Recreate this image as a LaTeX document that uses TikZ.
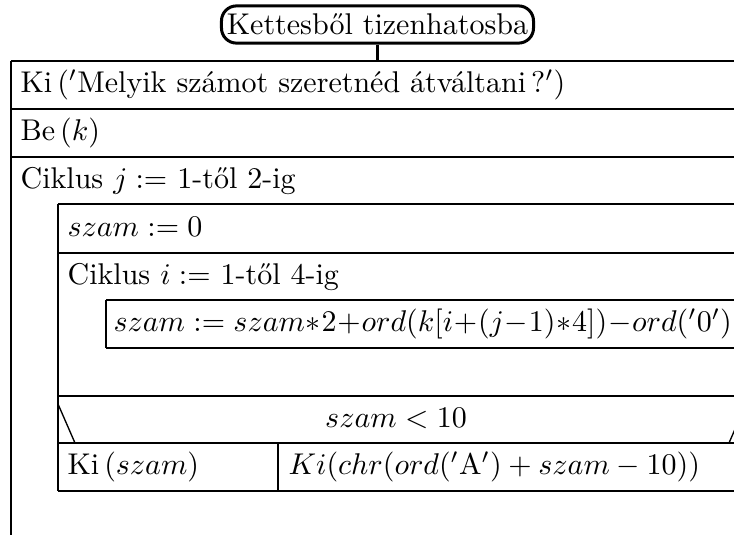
\documentclass[tikz,border=0pt]{standalone}
\begin{document}
\begin{tikzpicture}[x=0.3333pt,y=-0.3333pt,
  frame/.style={line width=0.9pt},
  diag/.style={line width=0.45pt},
  txt/.style={anchor=west,inner sep=0pt,text height=7.5pt,text depth=2.5pt},
  ctxt/.style={anchor=center,inner sep=0pt,text height=7.5pt,text depth=2.5pt}]
\useasboundingbox (0,0) rectangle (734,535);
\clip (0,0) rectangle (734,535);

% title
\node[draw, line width=1pt, rounded corners=5pt, minimum width=104pt,
      minimum height=12.4pt, inner sep=0pt] (title) at (377.5,24.5) {Kettesből tizenhatosba};
\coordinate (top) at (377.5,61);
\draw[frame] (title.south) -- (top);

% outer frame
\draw[frame] (11,61) -- (760,61);
\draw[frame] (11,61) -- (11,560);
\draw[frame] (11,109) -- (760,109);
\draw[frame] (11,157) -- (760,157);

% loop j body
\draw[frame] (58,204) -- (760,204);
\draw[frame] (58,204) -- (58,491);
\draw[frame] (58,253) -- (760,253);

% loop i body
\draw[frame] (106,300) -- (760,300);
\draw[frame] (106,300) -- (106,348);
\draw[frame] (106,348) -- (760,348);

% if
\draw[frame] (58,396) -- (760,396);
\draw[frame] (58,443) -- (760,443);
\draw[frame] (58,491) -- (760,491);
\draw[frame] (278,443) -- (278,491);
\draw[diag] (58,404) -- (75,443);
\draw[diag] (729,443) -- (746,404);

% texts
\node[txt] (ki) at (20,85) {Ki\,(${}'$Melyik számot szeretnéd átváltani\,?${}'$)};
\node[txt] (be) at (20,133) {Be\,($k$)};
\node[txt] (cj) at (20,180.5) {Ciklus $j:=$ 1-től 2-ig};
\node[txt] (sz0) at (67,228.5) {$szam:=0$};
\node[txt] (ci) at (67,276.5) {Ciklus $i:=$ 1-től 4-ig};
\node[txt] (upd) at (113,324) {$\medmuskip=0.5mu szam:=szam*2+ord(k[i+(j-1)*4])-ord('0')$};
\node[ctxt] (cond) at (396,419.5) {$szam<10$};
\node[txt] (yes) at (67,467) {Ki\,($szam$)};
\node[txt] (no) at (288,467) {$Ki(chr(ord('\mathrm{A}')+szam-10))$};
\end{tikzpicture}
\end{document}
